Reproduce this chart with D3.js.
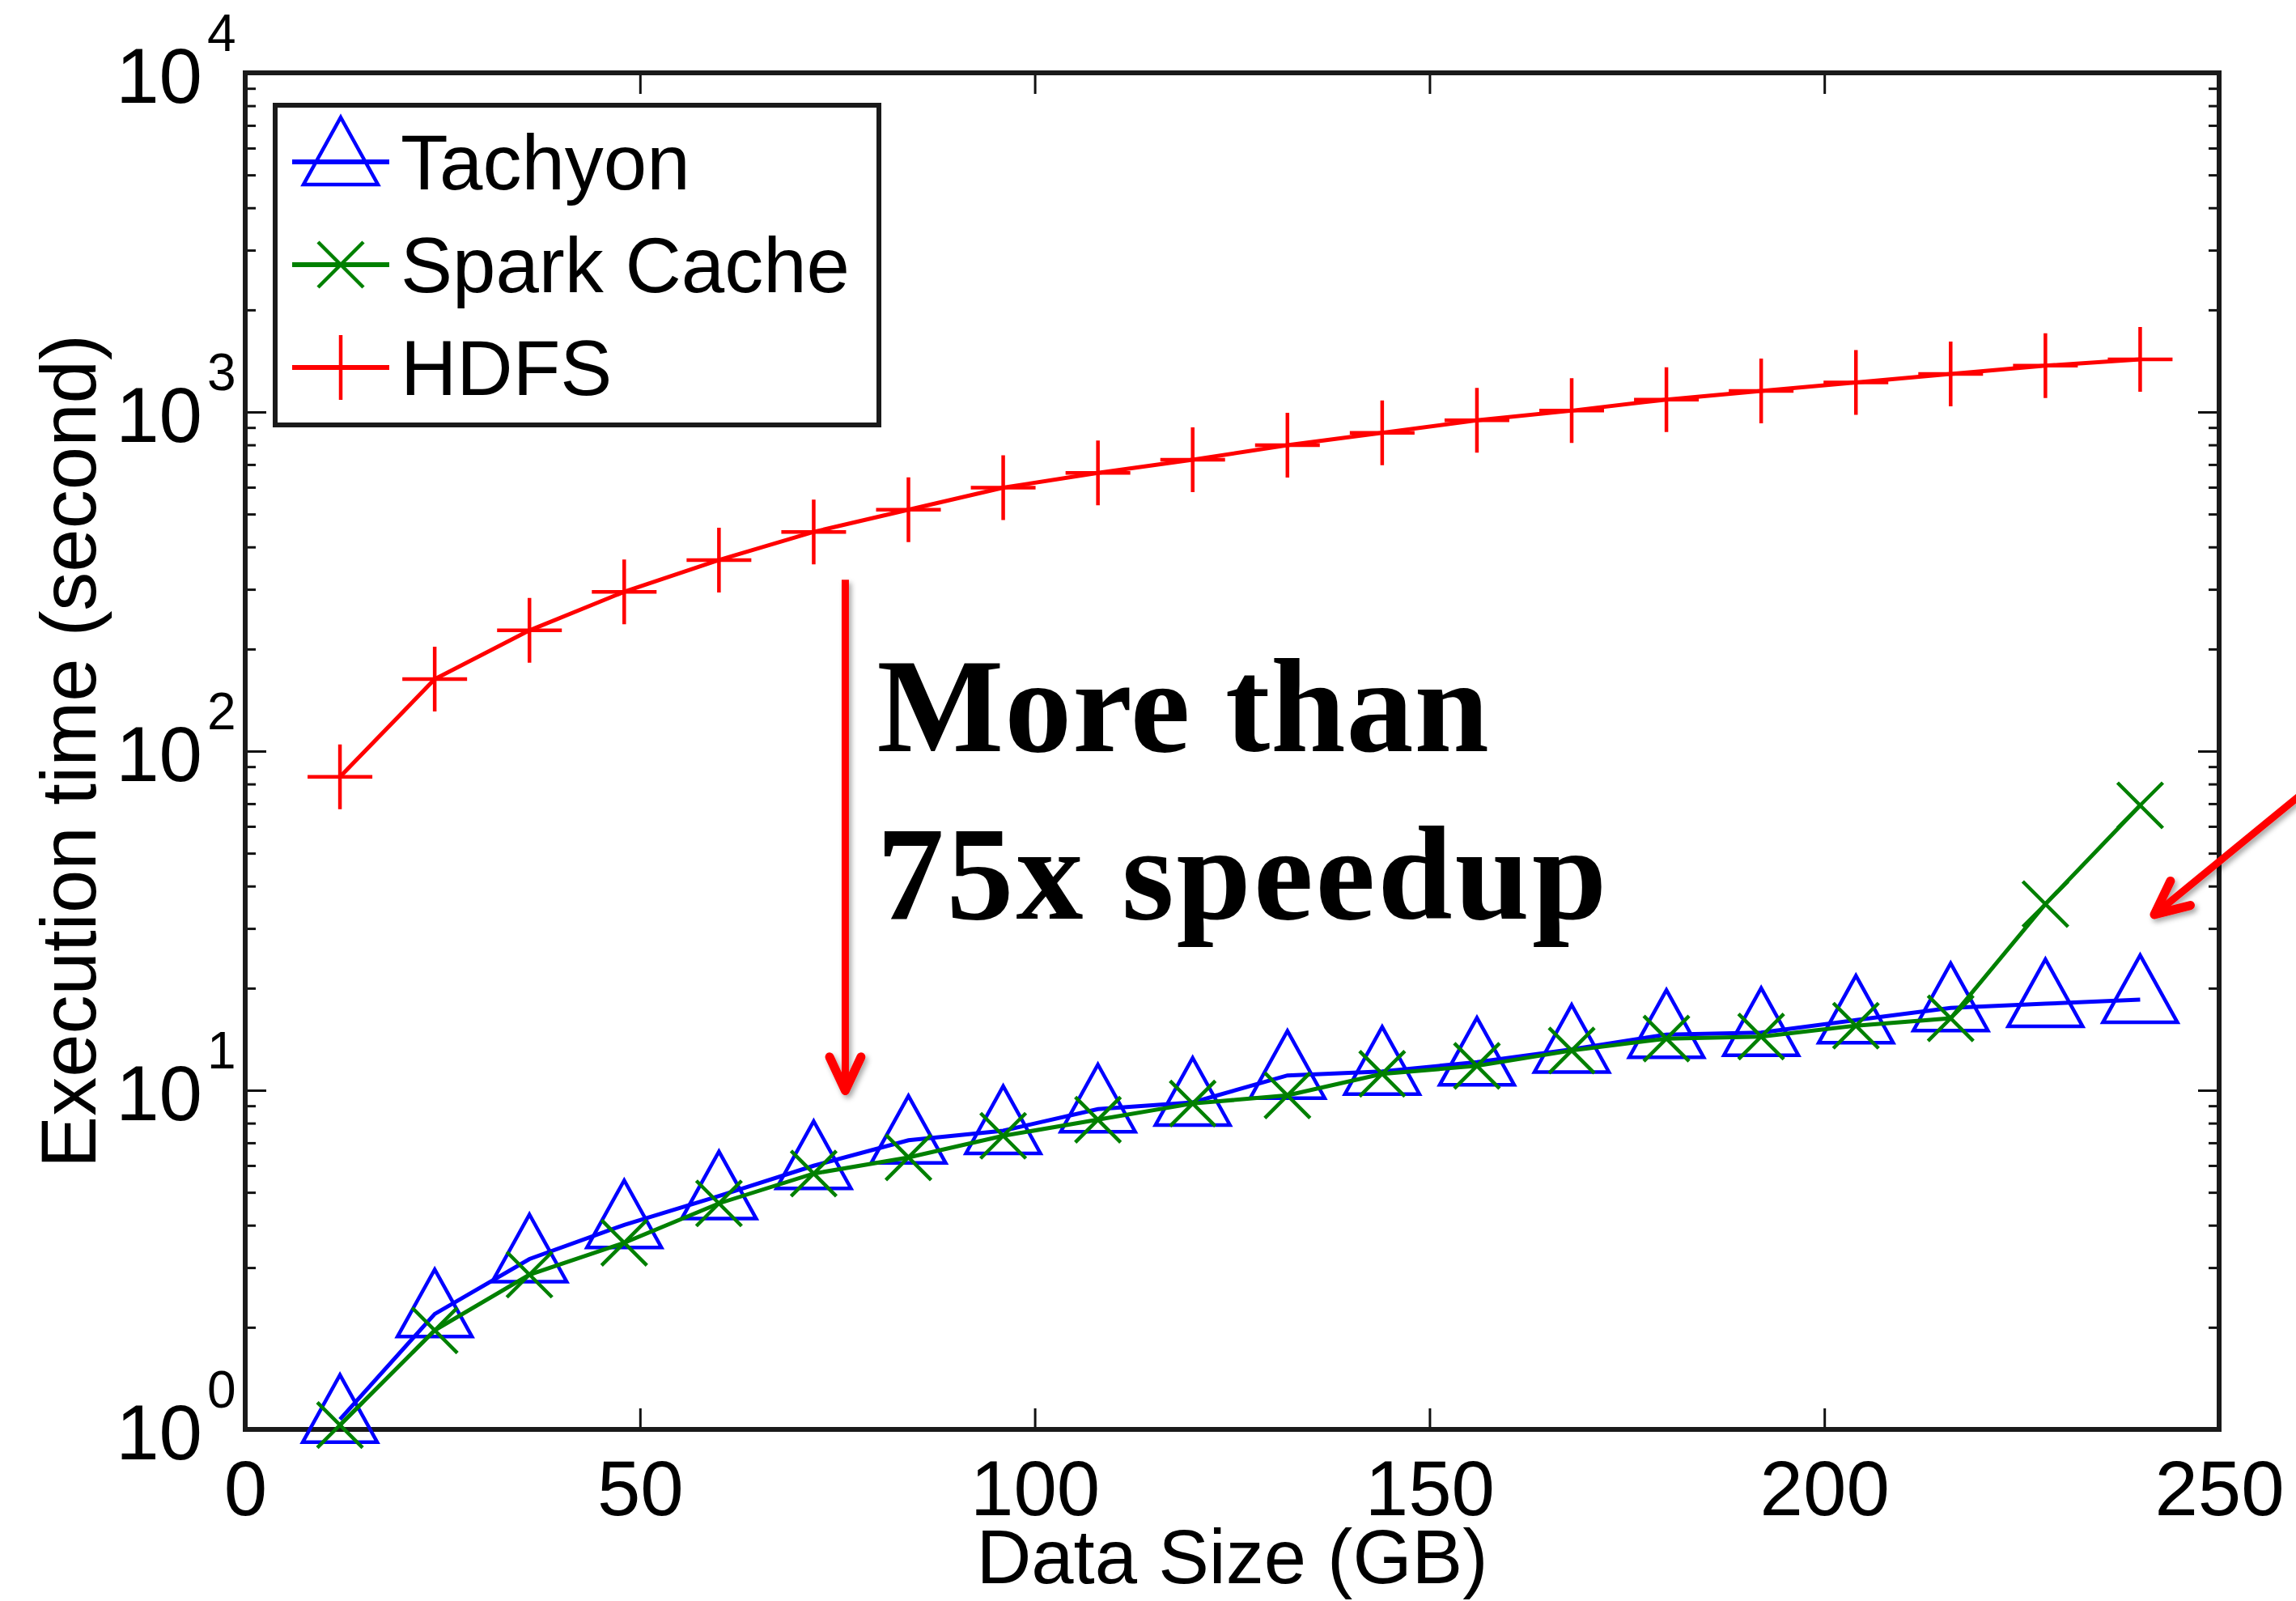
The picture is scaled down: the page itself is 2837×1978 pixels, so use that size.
<!DOCTYPE html>
<html>
<head>
<meta charset="utf-8">
<script src="https://cdnjs.cloudflare.com/ajax/libs/d3/7.8.5/d3.min.js"></script>
<style>
body { margin: 0; background: #fff; }
text { font-family: "Liberation Sans", Arial, sans-serif; fill: #000; }
</style>
</head>
<body>
<script>
// data (GB vs seconds)
var sizes = [12, 24, 36, 48, 60, 72, 84, 96, 108, 120, 132, 144, 156, 168, 180, 192, 204, 216, 228, 240];
var tachyon = [1.07, 2.19, 3.18, 4.01, 4.88, 5.99, 7.12, 7.60, 8.80, 9.21, 11.06, 11.37, 12.1, 13.2, 14.6, 14.8, 16.1, 17.5, 18.0, 18.5];
var spark = [1.03, 1.96, 2.86, 3.55, 4.64, 5.68, 6.34, 7.34, 8.19, 9.14, 9.66, 11.18, 11.8, 13.1, 14.2, 14.4, 15.5, 16.3, 35.4, 69.2];
var hdfs = [84, 163, 227, 295, 366, 443, 515, 598, 661, 723, 798, 868, 945, 1009, 1088, 1153, 1222, 1294, 1370, 1429];

var seriesNames = ["Tachyon", "Spark Cache", "HDFS"];
var seriesColors = ["#0000ff", "#008000", "#ff0000"];
var seriesMarkers = ["tri", "x", "plus"];

var xTicks = [0, 50, 100, 150, 200, 250];
var yExponents = [0, 1, 2, 3, 4];

// annotation anchors in data units
var noteLines = ["More than", "75x speedup"];
var noteX = 80;
var noteY = [100, 32];
var downArrow = [[76, 320], [76, 9.7]];
var sideArrow = [[262, 80], [241.4, 32.4]];

var w = 2837;
var h = 1978;
var padL = 303, padR = 2742, padT = 90, padB = 1766;

var svg = d3.select("body")
    .append("svg")
    .attr("width", w)
    .attr("height", h);

var defs = svg.append("defs");
defs.append("filter")
    .attr("id", "shadow")
    .attr("x", "-50%").attr("y", "-50%")
    .attr("width", "200%").attr("height", "200%")
    .append("feDropShadow")
    .attr("dx", 3).attr("dy", 4)
    .attr("stdDeviation", 3)
    .attr("flood-color", "#000")
    .attr("flood-opacity", 0.35);

var xScale = d3.scaleLinear().domain([0, 250]).range([padL, padR]);
var yScale = d3.scaleLog().domain([1, 10000]).range([padB, padT]);

var majors = yExponents.map(function (e) { return Math.pow(10, e); });
var minors = yScale.ticks().filter(function (v) {
    return majors.indexOf(v) < 0;
});

// ticks (inward, matlab style)
function styleAxis(g) {
    g.select(".domain").remove();
    g.selectAll(".tick line").attr("stroke", "#111").attr("stroke-width", 3);
}

svg.append("g")
    .attr("transform", "translate(0," + padB + ")")
    .call(d3.axisBottom(xScale).tickValues(xTicks).tickSize(-26).tickSizeOuter(0).tickPadding(38).tickFormat(d3.format("d")))
    .call(styleAxis)
    .selectAll("text")
    .style("font-size", "96px")
    .style("font-family", "'Liberation Sans', Arial, sans-serif")
    .attr("fill", "#000");

svg.append("g")
    .attr("transform", "translate(0," + padT + ")")
    .call(d3.axisTop(xScale).tickValues(xTicks).tickSize(-26).tickSizeOuter(0).tickFormat(""))
    .call(styleAxis);

svg.append("g")
    .attr("transform", "translate(" + padL + ",0)")
    .call(d3.axisLeft(yScale).tickValues(majors).tickSize(-26).tickSizeOuter(0).tickFormat(""))
    .call(styleAxis);

svg.append("g")
    .attr("transform", "translate(" + padL + ",0)")
    .call(d3.axisLeft(yScale).tickValues(minors).tickSize(-13).tickSizeOuter(0).tickFormat(""))
    .call(styleAxis);

svg.append("g")
    .attr("transform", "translate(" + padR + ",0)")
    .call(d3.axisRight(yScale).tickValues(majors).tickSize(-26).tickSizeOuter(0).tickFormat(""))
    .call(styleAxis);

svg.append("g")
    .attr("transform", "translate(" + padR + ",0)")
    .call(d3.axisRight(yScale).tickValues(minors).tickSize(-13).tickSizeOuter(0).tickFormat(""))
    .call(styleAxis);

// y tick labels 10^k
var yLab = svg.append("g");
yExponents.forEach(function (e) {
    var py = yScale(Math.pow(10, e));
    yLab.append("text")
        .attr("x", 250)
        .attr("y", py + 37)
        .attr("text-anchor", "end")
        .style("font-size", "96px")
        .text("10");
    yLab.append("text")
        .attr("x", 256)
        .attr("y", py - 27)
        .style("font-size", "64px")
        .text(e);
});

// plot box
svg.append("rect")
    .attr("x", padL)
    .attr("y", padT)
    .attr("width", padR - padL)
    .attr("height", padB - padT)
    .attr("fill", "none")
    .attr("stroke", "#1a1a1a")
    .attr("stroke-width", 6);

// axis titles
svg.append("text")
    .attr("x", xScale(125))
    .attr("y", 1956)
    .attr("text-anchor", "middle")
    .style("font-size", "94px")
    .text("Data Size (GB)");

svg.append("text")
    .attr("transform", "translate(118," + ((padT + padB) / 2) + ") rotate(-90)")
    .attr("text-anchor", "middle")
    .style("font-size", "96px")
    .text("Execution time (second)");

function markerPath(type) {
    if (type === "tri") return "M0,-55L46,28L-46,28Z";
    if (type === "x") return "M-28,-28L28,28M-28,28L28,-28";
    return "M-40,0L40,0M0,-40L0,40";
}

var allSeries = [tachyon, spark, hdfs];

var line = d3.line()
    .x(function (d, i) { return xScale(sizes[i]); })
    .y(function (d) { return yScale(d); });

allSeries.forEach(function (vals, k) {
    var g = svg.append("g");
    g.append("path")
        .datum(vals)
        .attr("fill", "none")
        .attr("stroke", seriesColors[k])
        .attr("stroke-width", 5)
        .attr("d", line);

    g.selectAll("path.mk")
        .data(vals)
        .enter()
        .append("path")
        .attr("class", "mk")
        .attr("transform", function (d, i) {
            return "translate(" + xScale(sizes[i]) + "," + yScale(d) + ")";
        })
        .attr("d", markerPath(seriesMarkers[k]))
        .attr("fill", "none")
        .attr("stroke", seriesColors[k])
        .attr("stroke-width", 4.5);
});

// legend
var legend = svg.append("g");
legend.append("rect")
    .attr("x", 340)
    .attr("y", 130)
    .attr("width", 746)
    .attr("height", 395)
    .attr("fill", "#fff")
    .attr("stroke", "#1a1a1a")
    .attr("stroke-width", 6);

seriesNames.forEach(function (name, k) {
    var ly = 200 + k * 127;
    legend.append("line")
        .attr("x1", 361).attr("x2", 481)
        .attr("y1", ly).attr("y2", ly)
        .attr("stroke", seriesColors[k])
        .attr("stroke-width", 6);
    legend.append("path")
        .attr("transform", "translate(421," + ly + ")")
        .attr("d", markerPath(seriesMarkers[k]))
        .attr("fill", "none")
        .attr("stroke", seriesColors[k])
        .attr("stroke-width", 4.5);
    legend.append("text")
        .attr("x", 495)
        .attr("y", ly + 34)
        .style("font-size", "96px")
        .text(name);
});

// annotations
function drawArrow(from, to) {
    var x1 = xScale(from[0]), y1 = yScale(from[1]);
    var x2 = xScale(to[0]), y2 = yScale(to[1]);
    var ang = Math.atan2(y1 - y2, x1 - x2);
    var tx = x2 + 5 * Math.cos(ang), ty = y2 + 5 * Math.sin(ang);
    var len = 46, spread = 25 * Math.PI / 180;
    var a1 = [tx + len * Math.cos(ang + spread), ty + len * Math.sin(ang + spread)];
    var a2 = [tx + len * Math.cos(ang - spread), ty + len * Math.sin(ang - spread)];
    var g = svg.append("g").attr("filter", "url(#shadow)");
    g.append("line")
        .attr("x1", x1).attr("y1", y1)
        .attr("x2", tx).attr("y2", ty)
        .attr("stroke", "#ff0000")
        .attr("stroke-width", 9);
    g.append("path")
        .attr("d", "M" + a1[0] + "," + a1[1] + "L" + tx + "," + ty + "L" + a2[0] + "," + a2[1])
        .attr("fill", "none")
        .attr("stroke", "#ff0000")
        .attr("stroke-width", 11)
        .attr("stroke-linecap", "round")
        .attr("stroke-linejoin", "round");
}

drawArrow(downArrow[0], downArrow[1]);
drawArrow(sideArrow[0], sideArrow[1]);

noteLines.forEach(function (t, i) {
    svg.append("text")
        .attr("x", xScale(noteX))
        .attr("y", yScale(noteY[i]))
        .style("font-family", "'Liberation Serif', 'Times New Roman', serif")
        .style("font-weight", "bold")
        .style("font-size", "166px")
        .style("letter-spacing", i === 1 ? "3px" : "1px")
        .text(t);
});
</script>
</body>
</html>
